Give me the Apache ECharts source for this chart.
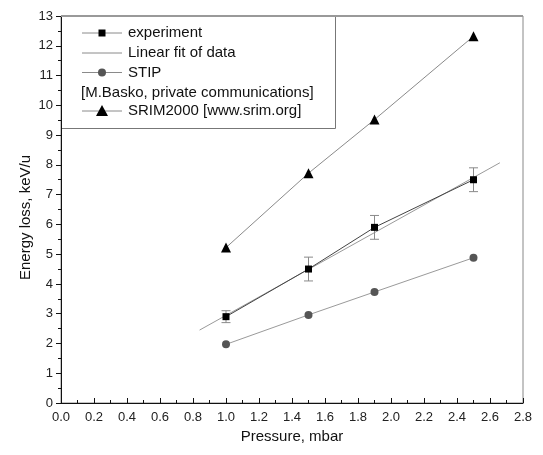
<!DOCTYPE html>
<html>
<head>
<meta charset="utf-8">
<script src="https://cdn.jsdelivr.net/npm/echarts@6/dist/echarts.min.js"></script>
<style>
  html, body { margin: 0; padding: 0; background: #fff; }
  #chart { width: 543px; height: 455px; }
</style>
</head>
<body>
<div id="chart"></div>
<script>
// Pressure values (mbar) shared by all measured / computed curves
const pressure = [1.0, 1.5, 1.9, 2.5];

// Measured energy loss (keV/u) and its uncertainty
const experiment = [2.9, 4.5, 5.9, 7.5];
const experimentErr = [0.2, 0.4, 0.4, 0.4];

// Straight-line fit through the measured points (end points)
const fitX = [0.84, 2.66];
const fitY = [2.45, 8.07];

// STIP calculation
const stip = [1.97, 2.96, 3.73, 4.88];

// SRIM2000 calculation
const srim = [5.22, 7.72, 9.52, 12.32];

// Axis tick values
const xTicks = [0, 0.2, 0.4, 0.6, 0.8, 1.0, 1.2, 1.4, 1.6, 1.8, 2.0, 2.2, 2.4, 2.6, 2.8];
const yTicks = [0, 1, 2, 3, 4, 5, 6, 7, 8, 9, 10, 11, 12, 13];

// Legend entries
const legendLabels = ['experiment', 'Linear fit of data', 'STIP', '[M.Basko, private communications]', 'SRIM2000 [www.srim.org]'];

const FONT = '"Liberation Sans", Arial, sans-serif';

const pairs = (xs, ys) => xs.map((x, i) => [x, ys[i]]);

const chart = echarts.init(document.getElementById('chart'));

// Hand-built legend: short line with a marker, followed by the label
const LEG_X0 = 82, LEG_X1 = 122, LEG_TX = 128;
const legendRowsY = [33, 53, 72.5, 92.5, 111];
const legendLine = y => ({
  type: 'line', z: 5,
  shape: { x1: LEG_X0, y1: y, x2: LEG_X1, y2: y },
  style: { stroke: '#8a8a8a', lineWidth: 1 }
});
const legendText = (label, x, y) => ({
  type: 'text', z: 5, x: x, y: y,
  style: { text: label, fontFamily: FONT, fontSize: 15, fill: '#111', verticalAlign: 'middle' }
});
const mx = (LEG_X0 + LEG_X1) / 2;
const legendGraphics = [
  legendLine(legendRowsY[0]),
  { type: 'rect', z: 6, shape: { x: mx - 3.5, y: legendRowsY[0] - 3.5, width: 7, height: 7 }, style: { fill: '#000' } },
  legendText(legendLabels[0], LEG_TX, legendRowsY[0]),
  legendLine(legendRowsY[1]),
  legendText(legendLabels[1], LEG_TX, legendRowsY[1]),
  legendLine(legendRowsY[2]),
  { type: 'circle', z: 6, shape: { cx: mx, cy: legendRowsY[2], r: 4 }, style: { fill: '#555' } },
  legendText(legendLabels[2], LEG_TX, legendRowsY[2]),
  legendText(legendLabels[3], LEG_X0 - 1, legendRowsY[3]),
  legendLine(legendRowsY[4]),
  { type: 'polygon', z: 6, shape: { points: [[mx, legendRowsY[4] - 6], [mx + 6, legendRowsY[4] + 5], [mx - 6, legendRowsY[4] + 5]] }, style: { fill: '#000' } },
  legendText(legendLabels[4], LEG_TX, legendRowsY[4])
];

const axisCommon = {
  axisLine: { show: true, onZero: false, lineStyle: { color: '#111', width: 1 } },
  splitLine: { show: false },
  axisLabel: { color: '#222', fontFamily: FONT, fontSize: 13 },
  nameTextStyle: { color: '#111', fontFamily: FONT, fontSize: 15 }
};

chart.setOption({
  animation: false,
  backgroundColor: '#fff',
  grid: {
    left: 61, right: 20, top: 16, bottom: 52,
    show: true, borderColor: '#888', borderWidth: 1
  },
  xAxis: Object.assign({}, axisCommon, {
    type: 'value',
    min: xTicks[0], max: xTicks[xTicks.length - 1], interval: 0.2,
    name: 'Pressure, mbar', nameLocation: 'middle', nameGap: 26,
    axisTick: { show: true, inside: true, length: 5, lineStyle: { color: '#111' } },
    minorTick: { show: true, splitNumber: 2, length: 3, lineStyle: { color: '#111' } },
    axisLabel: Object.assign({}, axisCommon.axisLabel, {
      margin: 8,
      formatter: v => v.toFixed(1)
    })
  }),
  yAxis: Object.assign({}, axisCommon, {
    type: 'value',
    min: yTicks[0], max: yTicks[yTicks.length - 1], interval: 1,
    name: 'Energy loss, keV/u', nameLocation: 'middle', nameGap: 28,
    nameMoveOverlap: false,
    nameTextStyle: { color: '#111', fontFamily: FONT, fontSize: 15, padding: [0, 16, 0, 0] },
    axisTick: { show: true, inside: false, length: 5, lineStyle: { color: '#111' } },
    minorTick: { show: true, splitNumber: 2, length: 3, lineStyle: { color: '#111' } },
    axisLabel: Object.assign({}, axisCommon.axisLabel, { margin: 8 })
  }),
  graphic: [
    {
      type: 'rect', left: 61, top: 15.5, z: 0,
      shape: { width: 274, height: 112.5 },
      style: { fill: '#fff', stroke: '#777', lineWidth: 1 }
    },
    {
      type: 'line', z: 1,
      shape: { x1: 61, y1: 16, x2: 523, y2: 16 },
      style: { stroke: '#999', lineWidth: 2 }
    }
  ].concat(legendGraphics),
  series: [
    {
      name: 'Linear fit of data',
      type: 'line',
      data: pairs(fitX, fitY),
      symbol: 'none',
      lineStyle: { color: '#9a9a9a', width: 1 },
      z: 2
    },
    {
      name: 'experiment-error',
      type: 'custom',
      data: pressure.map((x, i) => [x, experiment[i] - experimentErr[i], experiment[i] + experimentErr[i]]),
      renderItem: function (params, api) {
        const lo = api.coord([api.value(0), api.value(1)]);
        const hi = api.coord([api.value(0), api.value(2)]);
        const w = 4.5;
        const st = { stroke: '#8a8a8a', lineWidth: 1 };
        return {
          type: 'group',
          children: [
            { type: 'line', shape: { x1: lo[0], y1: lo[1], x2: hi[0], y2: hi[1] }, style: st },
            { type: 'line', shape: { x1: lo[0] - w, y1: lo[1], x2: lo[0] + w, y2: lo[1] }, style: st },
            { type: 'line', shape: { x1: hi[0] - w, y1: hi[1], x2: hi[0] + w, y2: hi[1] }, style: st }
          ]
        };
      },
      z: 3
    },
    {
      name: 'experiment',
      type: 'line',
      data: pairs(pressure, experiment),
      symbol: 'rect', symbolSize: 7,
      lineStyle: { color: '#444', width: 1 },
      itemStyle: { color: '#000' },
      z: 4
    },
    {
      name: 'STIP',
      type: 'line',
      data: pairs(pressure, stip),
      symbol: 'circle', symbolSize: 8,
      lineStyle: { color: '#9a9a9a', width: 1 },
      itemStyle: { color: '#555' },
      z: 4
    },
    {
      name: 'SRIM2000 [www.srim.org]',
      type: 'line',
      data: pairs(pressure, srim),
      symbol: 'triangle', symbolSize: 10,
      lineStyle: { color: '#8a8a8a', width: 1 },
      itemStyle: { color: '#000' },
      z: 4
    }
  ]
});
</script>
</body>
</html>
